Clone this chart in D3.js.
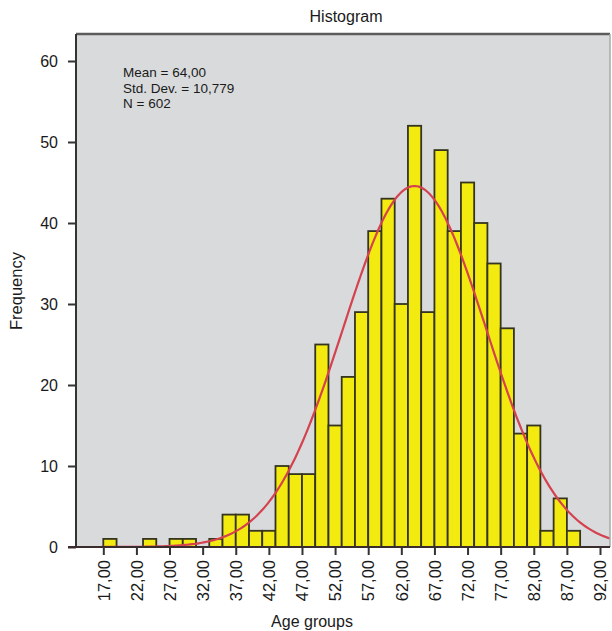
<!DOCTYPE html>
<html>
<head>
<meta charset="utf-8">
<script src="https://cdn.jsdelivr.net/npm/d3@7"></script>
<style>
  body { margin: 0; background: #fff; }
  text { font-family: "Liberation Sans", Arial, sans-serif; fill: #1a1a1a; }
</style>
</head>
<body>
<div id="hist"></div>
<script>
// bins: lower edge of each bin (width 2) and its count
var binStart = [17,19,21,23,25,27,29,31,33,35,37,39,41,43,45,47,49,51,53,55,57,59,61,63,65,67,69,71,73,75,77,79,81,83,85,87];
var counts   = [1,0,0,1,0,1,1,0,1,4,4,2,2,10,9,9,25,15,21,29,39,43,30,52,29,49,39,45,40,35,27,14,15,2,6,2];
var binWidth = 2;
var xTicks = [17,22,27,32,37,42,47,52,57,62,67,72,77,82,87,92];
var yTicks = [0,10,20,30,40,50,60];
var stats = ["Mean = 64,00", "Std. Dev. = 10,779", "N = 602"];
var mean = 64.00, sd = 10.779, n = 602;

var width = 612, height = 631;
var plot = {left: 76, top: 34, right: 610, bottom: 547};

var svg = d3.select("#hist")
  .append("svg")
    .attr("width", width)
    .attr("height", height);

var x = d3.scaleLinear()
  .domain([17, 92])
  .range([103.3, 600]);

var y = d3.scaleLinear()
  .domain([0, 60])
  .range([plot.bottom, 61]);

// plot background
svg.append("rect")
  .attr("x", plot.left)
  .attr("y", plot.top)
  .attr("width", plot.right - plot.left)
  .attr("height", plot.bottom - plot.top)
  .attr("fill", "#d9dadc");

// bars
svg.selectAll("rect.bar")
  .data(counts.map(function(c, i) { return {x0: binStart[i], c: c}; }).filter(function(d) { return d.c > 0; }))
  .enter()
  .append("rect")
    .attr("class", "bar")
    .attr("x", function(d) { return x(d.x0); })
    .attr("y", function(d) { return y(d.c); })
    .attr("width", function(d) { return x(d.x0 + binWidth) - x(d.x0); })
    .attr("height", function(d) { return y(0) - y(d.c); })
    .attr("fill", "#f3eb10")
    .attr("stroke", "#35341f")
    .attr("stroke-width", 1.8);

// normal curve
var xMin = x.invert(plot.left), xMax = x.invert(plot.right);
var pts = d3.range(xMin, xMax, 0.25).concat([xMax]);
var line = d3.line()
  .x(function(v) { return x(v); })
  .y(function(v) {
    var z = (v - mean) / sd;
    return y(n * binWidth * Math.exp(-0.5 * z * z) / (sd * Math.sqrt(2 * Math.PI)));
  });
svg.append("path")
  .datum(pts)
  .attr("d", line)
  .attr("fill", "none")
  .attr("stroke", "#d4424f")
  .attr("stroke-width", 2.2);

// frame
svg.append("line")
  .attr("x1", plot.left).attr("x2", plot.right)
  .attr("y1", plot.top).attr("y2", plot.top)
  .attr("stroke", "#5c5c5c").attr("stroke-width", 2.5);
svg.append("line")
  .attr("x1", plot.right).attr("x2", plot.right)
  .attr("y1", plot.top).attr("y2", plot.bottom)
  .attr("stroke", "#a8a8a8").attr("stroke-width", 1.5);

// Y axis
var yAxis = svg.append("g")
  .attr("transform", "translate(" + plot.left + ",0)")
  .call(d3.axisLeft(y).tickValues(yTicks).tickSize(8).tickPadding(10).tickFormat(d3.format("d")));
yAxis.select(".domain").attr("d", "M0," + plot.top + "V" + plot.bottom).attr("stroke", "#333").attr("stroke-width", 2);
yAxis.selectAll(".tick line").attr("stroke", "#333").attr("stroke-width", 2);
yAxis.selectAll("text").style("font-size", "16px");

// X axis
var xAxis = svg.append("g")
  .attr("transform", "translate(0," + plot.bottom + ")")
  .call(d3.axisBottom(x).tickValues(xTicks).tickSize(8)
    .tickFormat(function(d) { return d3.format(".2f")(d).replace(".", ","); }));
xAxis.select(".domain").attr("d", "M" + (plot.left - 8) + ",0H" + plot.right).attr("stroke", "#3a2c2c").attr("stroke-width", 2);
xAxis.selectAll(".tick line").attr("stroke", "#333").attr("stroke-width", 2);
xAxis.selectAll("text")
  .style("font-size", "16.5px")
  .attr("transform", "rotate(-90)")
  .attr("x", -13)
  .attr("y", 0)
  .attr("dy", "0.35em")
  .style("text-anchor", "end");

// titles
svg.append("text")
  .attr("x", 346)
  .attr("y", 22)
  .attr("text-anchor", "middle")
  .style("font-size", "16px")
  .text("Histogram");

svg.append("text")
  .attr("text-anchor", "middle")
  .attr("transform", "translate(22,291)rotate(-90)")
  .style("font-size", "16.5px")
  .text("Frequency");

svg.append("text")
  .attr("x", 312)
  .attr("y", 627)
  .attr("text-anchor", "middle")
  .style("font-size", "16px")
  .text("Age groups");

svg.selectAll("text.stat")
  .data(stats)
  .enter()
  .append("text")
    .attr("class", "stat")
    .attr("x", 123)
    .attr("y", function(d, i) { return 77 + i * 15.5; })
    .style("font-size", "13.5px")
    .text(function(d) { return d; });
</script>
</body>
</html>
